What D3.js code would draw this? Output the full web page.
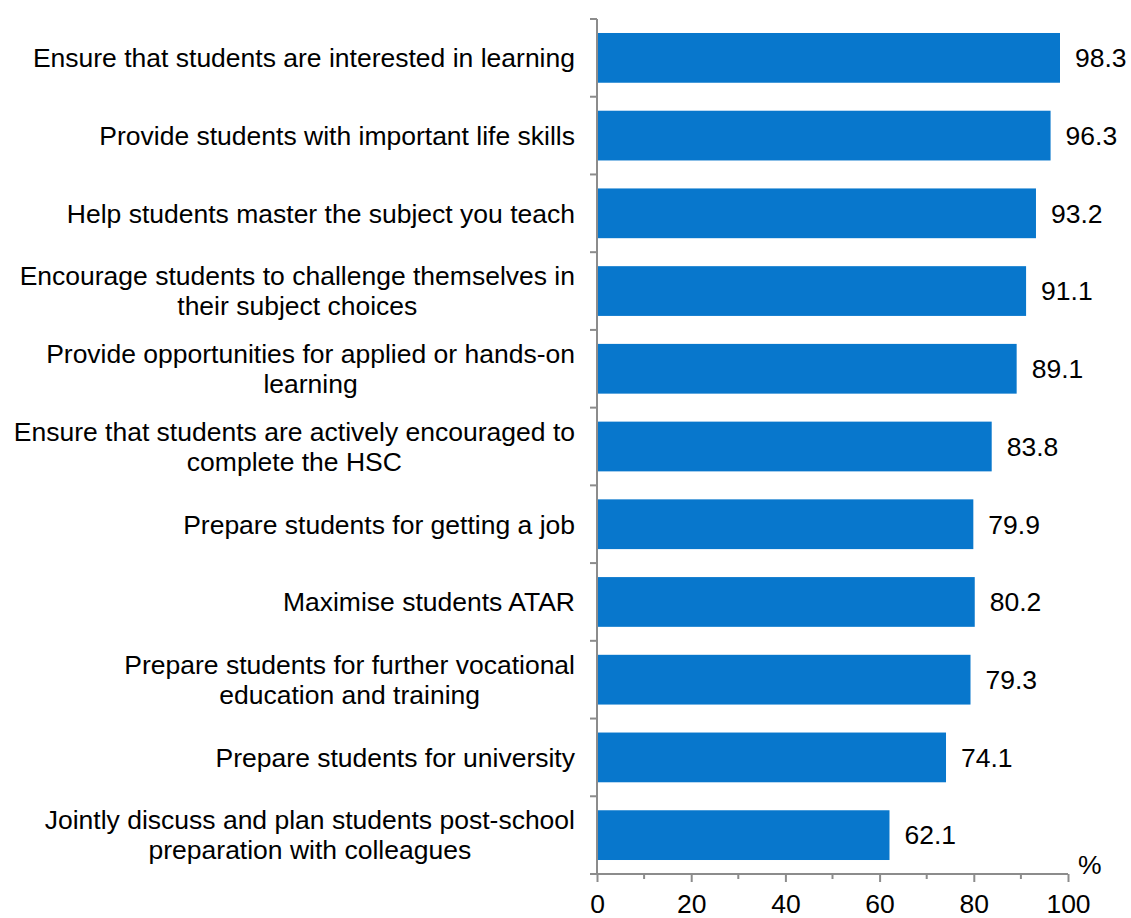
<!DOCTYPE html>
<html><head><meta charset="utf-8">
<script src="https://cdn.jsdelivr.net/npm/d3@7"></script>
<style>body{margin:0;background:#fff}text{font-family:"Liberation Sans",Arial,sans-serif;fill:#000}</style>
</head><body><svg id="c" width="1131" height="918"></svg>
<script>
const categories = [
  ["Ensure that students are interested in learning"],
  ["Provide students with important life skills"],
  ["Help students master the subject you teach"],
  ["Encourage students to challenge themselves in","their subject choices"],
  ["Provide opportunities for applied or hands-on","learning"],
  ["Ensure that students are actively encouraged to","complete the HSC"],
  ["Prepare students for getting a job"],
  ["Maximise students ATAR"],
  ["Prepare students for further vocational","education and training"],
  ["Prepare students for university"],
  ["Jointly discuss and plan students post-school","preparation with colleagues"]
];
const values = [98.3, 96.3, 93.2, 91.1, 89.1, 83.8, 79.9, 80.2, 79.3, 74.1, 62.1];
const xTicks = [0, 20, 40, 60, 80, 100];
const xMinor = [10, 30, 50, 70, 90];
const unitLabel = "%";

(function(){
const svg = d3.select("#c");
const L = 597, R = 1068, T = 19, B = 874;
const fs = 26.5;
const x = d3.scaleLinear().domain([0, 100]).range([L, R]);
const y = d3.scaleBand().domain(d3.range(categories.length)).range([T, B]).paddingInner(0.36).paddingOuter(0.18);
const axisColor = "#8c8c8c";

svg.selectAll("rect.bar").data(values).join("rect")
  .attr("x", x(0)).attr("y", (d,i) => y(i))
  .attr("width", d => x(d) - x(0)).attr("height", y.bandwidth())
  .attr("fill", "#0877cc");

svg.selectAll("text.val").data(values).join("text")
  .attr("x", d => x(d) + 15).attr("y", (d,i) => y(i) + y.bandwidth()/2)
  .attr("dy", "0.35em").attr("font-size", fs).text(d => d.toFixed(1));

const step = (B - T) / categories.length;
svg.append("line").attr("x1", L).attr("x2", L).attr("y1", T).attr("y2", B)
  .attr("stroke", axisColor).attr("stroke-width", 2);
for (let i = 0; i <= categories.length; i++) {
  svg.append("line").attr("x1", L - 7).attr("x2", L).attr("y1", T + i*step).attr("y2", T + i*step)
    .attr("stroke", axisColor).attr("stroke-width", 2);
}

categories.forEach((lines, i) => {
  const g = svg.append("g");
  const ts = lines.map(l => g.append("text").attr("font-size", fs).attr("text-anchor", "middle").text(l));
  const w = d3.max(ts, t => t.node().getComputedTextLength());
  const cx = 575 - w/2;
  const cy = y(i) + y.bandwidth()/2;
  const lh = 30;
  ts.forEach((t, k) => t.attr("x", cx).attr("y", cy + (k - (lines.length-1)/2) * lh).attr("dy", "0.35em"));
});

const xa = svg.append("g").attr("transform", `translate(0,${B})`)
  .call(d3.axisBottom(x).tickValues(xTicks).tickSize(8).tickPadding(12).tickFormat(d3.format("d")));
xa.select(".domain").attr("stroke", axisColor).attr("stroke-width", 2).attr("d", `M${L},0H${R}`);
xa.selectAll(".tick line").attr("stroke", axisColor).attr("stroke-width", 2);
xa.selectAll(".tick text").attr("font-size", fs).attr("font-family", '"Liberation Sans",Arial,sans-serif').attr("fill", "#000");
svg.selectAll("line.minor").data(xMinor).join("line")
  .attr("x1", d => x(d)).attr("x2", d => x(d)).attr("y1", B).attr("y2", B + 5)
  .attr("stroke", axisColor).attr("stroke-width", 2);

svg.append("text").attr("x", 1078).attr("y", B).attr("font-size", fs).text(unitLabel);
})();
</script></body></html>
